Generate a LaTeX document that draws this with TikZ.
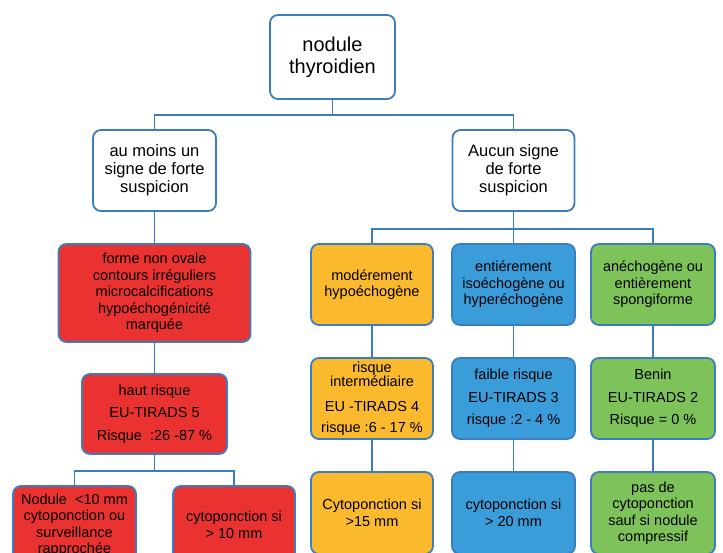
\documentclass[tikz,border=0pt]{standalone}
\usepackage{fontspec}
\setmainfont{Liberation Sans}
\usetikzlibrary{positioning}

\definecolor{trait}{RGB}{58,125,192}
\definecolor{rouge}{RGB}{234,50,48}
\definecolor{jaune}{RGB}{251,186,46}
\definecolor{bleu}{RGB}{59,156,218}
\definecolor{vert}{RGB}{125,195,90}

\begin{document}
\begin{tikzpicture}[
  x=1pt, y=-1pt,
  box/.style={draw=trait, line width=1.8pt, fill=white, rounded corners=8pt,
              align=center, inner sep=2pt, text=black},
  racine/.style={box, minimum width=125pt, minimum height=84pt,
                 font=\fontsize{20}{22}\selectfont},
  niveau/.style={box, minimum width=123pt, minimum height=81pt,
                 font=\fontsize{16.5}{18}\selectfont},
  case/.style={box, minimum width=123pt, minimum height=81pt,
               font=\fontsize{14.5}{16.5}\selectfont},
  haut/.style={case, fill=rouge},
  modere/.style={case, fill=jaune},
  faible/.style={case, fill=bleu},
  benin/.style={case, fill=vert},
  lien/.style={draw=trait, line width=1.8pt},
]
\useasboundingbox (0,0) rectangle (723,552);
\clip (0,0) rectangle (723,552);

% ---- top of the tree ----
\node[racine] (root) at (332.5,57) {nodule\\thyroidien};
\node[niveau] (fort)  at (154.5,170.5) {au moins un\\signe de forte\\suspicion};
\node[niveau, minimum width=122pt] (aucun) at (513.5,170.5) {Aucun signe\\de forte\\suspicion};

\draw[lien] (root.south) -- ++(0,15) -| (fort.north);
\draw[lien] (root.south) -- ++(0,15) -| (aucun.north);

% ---- high suspicion branch (red) ----
\node[haut, minimum width=192pt, minimum height=98pt] (signes) at (154.5,293)
  {forme non ovale\\contours irréguliers\\microcalcifications\\hypoéchogénicité\\marquée};
\node[haut, minimum width=145pt, minimum height=80pt] (tirads5) at (154.5,414)
  {haut risque\\[6pt]EU-TIRADS 5\\[6pt]Risque\ \ :26 -87 \%};
\node[haut, minimum height=78pt] (petit) at (74.5,525)
  {Nodule\ \ <10 mm\\cytoponction ou\\surveillance\\rapprochée};
\node[haut, minimum width=122pt, minimum height=78pt] (grand) at (234,525)
  {cytoponction si\\> 10 mm};

\draw[lien] (fort) -- (signes);
\draw[lien] (signes) -- (tirads5);
\draw[lien] (tirads5.south) -- ++(0,16) -| (petit.north);
\draw[lien] (tirads5.south) -- ++(0,16) -| (grand.north);

% ---- no high suspicion: three columns ----
\node[modere, minimum width=122pt] (hypo) at (372,284.5) {modérement\\hypoéchogène};
\node[faible] (iso)  at (513.5,284.5) {entiérement\\isoéchogène ou\\hyperéchogène};
\node[benin, minimum width=124pt] (anech) at (653,284.5) {anéchogène ou\\entièrement\\spongiforme};

\node[modere, minimum width=122pt] (tirads4) at (372,398.5)
  {risque\\[-2.5pt]intermédiaire\\[8.5pt]EU -TIRADS 4\\[4.5pt]risque :6 - 17 \%};
\node[faible] (tirads3) at (513.5,398.5)
  {faible risque\\[6pt]EU-TIRADS 3\\[6pt]risque :2 - 4 \%};
\node[benin, minimum width=124pt] (tirads2) at (653,398.5)
  {Benin\\[6pt]EU-TIRADS 2\\[6pt]Risque = 0 \%};

\node[modere, minimum width=122pt, minimum height=82pt] (cyto15) at (372,513)
  {Cytoponction si\\>15 mm};
\node[faible, minimum height=82pt] (cyto20) at (513.5,513)
  {cytoponction si\\> 20 mm};
\node[benin, minimum width=124pt, minimum height=82pt] (pasde) at (653,513)
  {pas de\\cytoponction\\sauf si nodule\\compressif};

\draw[lien] (aucun.south) -- ++(0,17) -| (hypo.north);
\draw[lien] (aucun) -- (iso);
\draw[lien] (aucun.south) -- ++(0,17) -| (anech.north);

\draw[lien] (hypo) -- (tirads4);
\draw[lien] (tirads4) -- (cyto15);
\draw[lien] (iso) -- (tirads3);
\draw[lien] (tirads3) -- (cyto20);
\draw[lien] (anech) -- (tirads2);
\draw[lien] (tirads2) -- (pasde);

\end{tikzpicture}
\end{document}
